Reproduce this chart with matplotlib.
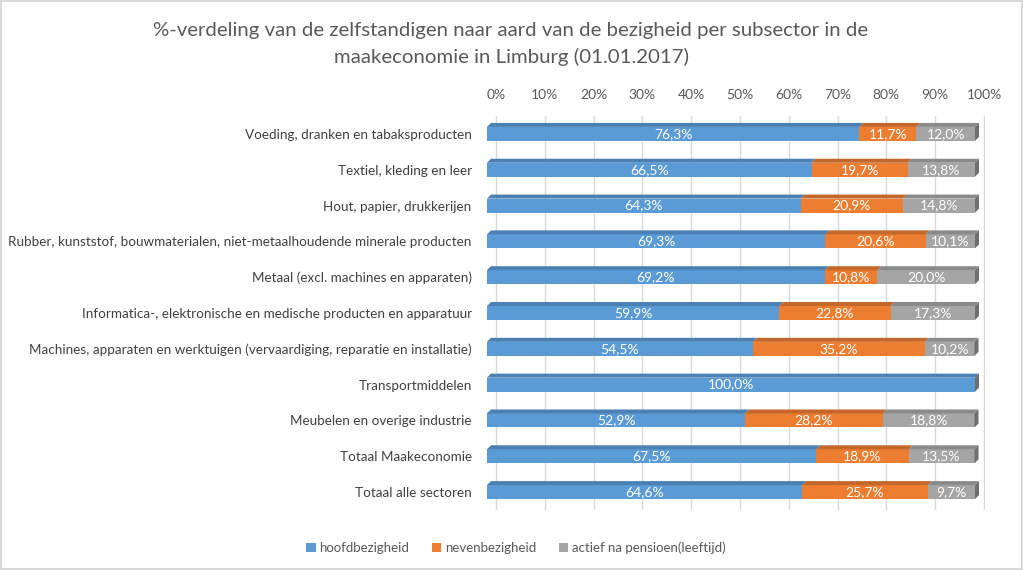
import matplotlib
matplotlib.use('Agg')
import matplotlib.pyplot as plt
from matplotlib.patches import Polygon, Patch
import numpy as np

categories = ['Voeding, dranken en tabaksproducten',
              'Textiel, kleding en leer',
              'Hout, papier, drukkerijen',
              'Rubber, kunststof, bouwmaterialen, niet-metaalhoudende minerale producten',
              'Metaal (excl. machines en apparaten)',
              'Informatica-, elektronische en medische producten en apparatuur',
              'Machines, apparaten en werktuigen (vervaardiging, reparatie en installatie)',
              'Transportmiddelen',
              'Meubelen en overige industrie',
              'Totaal Maakeconomie',
              'Totaal alle sectoren']
hoofd = [76.3, 66.5, 64.3, 69.3, 69.2, 59.9, 54.5, 100.0, 52.9, 67.5, 64.6]
neven = [11.7, 19.7, 20.9, 20.6, 10.8, 22.8, 35.2, 0.0, 28.2, 18.9, 25.7]
actief = [12.0, 13.8, 14.8, 10.1, 20.0, 17.3, 10.2, 0.0, 18.8, 13.5, 9.7]
series_names = ['hoofdbezigheid', 'nevenbezigheid', 'actief na pensioen(leeftijd)']
tick_labels = ['%d%%' % v for v in range(0, 101, 10)]

colors = ['#5B9BD5', '#ED7D31', '#A5A5A5']
top_colors = ['#4A80B3', '#C4672A', '#8A8A8A']
side_color = '#6E6E6E'

plt.rcParams['font.family'] = ['Lato', 'DejaVu Sans']

W, H = 1023, 570
fig = plt.figure(figsize=(W / 100, H / 100), dpi=100, edgecolor='#D9D9D9', linewidth=1.5)
# axes placed so that 0% -> x=487px and 100% -> x=975px
px_per_unit = 4.88
xmax = 102
ax_left, ax_right = 487, 487 + xmax * px_per_unit
ax_top, ax_bot = 116, 510
ax = fig.add_axes([ax_left / W, 1 - ax_bot / H, (ax_right - ax_left) / W, (ax_bot - ax_top) / H])
ax.set_xlim(0, xmax)
ax.set_ylim(len(categories) - 0.5, -0.5)
row_px = (ax_bot - ax_top) / len(categories)

bar_h = 0.39
dx = 4 / px_per_unit      # depth of the 3D bars
dy = 4 / row_px
grid_off = 9 / px_per_unit  # back wall offset

y = np.arange(len(categories))
left = np.zeros(len(categories))
for vals, c, tc in zip([hoofd, neven, actief], colors, top_colors):
    vals = np.array(vals)
    ax.barh(y, vals, left=left, height=bar_h, color=c, zorder=3)
    for yi, l, v in zip(y, left, vals):
        if v <= 0:
            continue
        yt = yi - bar_h / 2
        ax.add_patch(Polygon([(l, yt), (l + dx, yt - dy), (l + v + dx, yt - dy), (l + v, yt)],
                             closed=True, facecolor=tc, edgecolor='none', zorder=3))
        ax.text(l + v / 2, yi, ('%.1f%%' % v).replace('.', ','), ha='center', va='center',
                color='white', fontsize=10, zorder=5)
    left = left + vals

# right side face of each stacked bar
for yi, total in zip(y, left):
    yt = yi - bar_h / 2
    yb = yi + bar_h / 2
    ax.add_patch(Polygon([(total, yb), (total, yt), (total + dx, yt - dy), (total + dx, yb - dy)],
                         closed=True, facecolor=side_color, edgecolor='none', zorder=4))

ax.set_xticks(np.arange(0, 101, 10) + grid_off, tick_labels)
ax.xaxis.tick_top()
ax.tick_params(axis='x', length=0, pad=11, labelsize=10, labelcolor='#595959')
ax.grid(axis='x', color='#D9D9D9', linewidth=1, zorder=0)
ax.set_yticks(y, categories)
ax.tick_params(axis='y', length=0, pad=11, labelsize=9.7, labelcolor='#404040')
for s in ax.spines.values():
    s.set_visible(False)

fig.text(511 / W, 1 - 44 / H,
         '%-verdeling van de zelfstandigen naar aard van de bezigheid per subsector in de\nmaakeconomie in Limburg (01.01.2017)',
         ha='center', va='center', fontsize=14.65, color='#595959', linespacing=1.6)

handles = [Patch(facecolor=c, edgecolor='none') for c in colors]
fig.legend(handles, series_names, loc='center', bbox_to_anchor=(516 / W, 1 - 548 / H), ncol=3,
           frameon=False, fontsize=9.5, handlelength=0.7, handleheight=0.7, handletextpad=0.3,
           columnspacing=1.7, labelcolor='#595959')

fig.savefig('out.png', dpi=100)
